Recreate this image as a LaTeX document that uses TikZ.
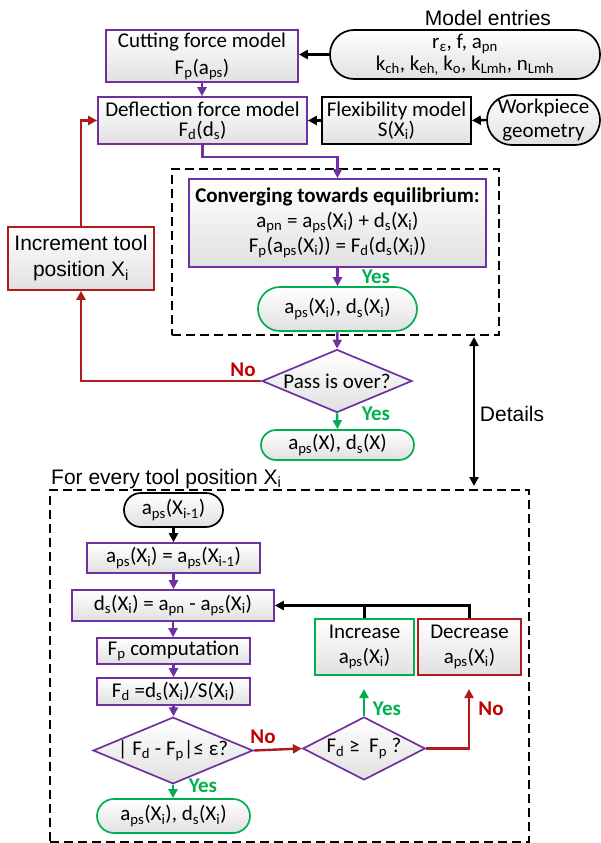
\documentclass[tikz,border=0pt]{standalone}
\usepackage{fontspec}
\setmainfont{Carlito}
\newfontfamily\arialf{Liberation Sans}
\usetikzlibrary{arrows.meta,shapes.geometric,calc}
\newcommand\sbs[1]{\textsubscript{#1}}
\definecolor{cpurple}{HTML}{7030A0}
\definecolor{cgreen}{HTML}{00B050}
\definecolor{cred}{HTML}{B01C1C}
\definecolor{cnotext}{HTML}{C00000}
\tikzset{
  fnt/.style={font=\fontsize{21}{#1}\selectfont},
  box/.style={draw, line width=1.7pt, top color=white, bottom color=black!12,
    inner sep=0pt, align=center, fnt=25},
  pbox/.style={box, draw=cpurple},
  kbox/.style={box, draw=black},
  gbox/.style={box, draw=cgreen},
  rbox/.style={box, draw=cred},
  pdiam/.style={box, draw=cpurple, diamond, shape aspect=2.4},
  dashbox/.style={draw, line width=1.6pt, dash pattern=on 9pt off 5pt, inner sep=0pt},
  arialtxt/.style={font=\arialf\fontsize{21}{26}\selectfont, inner sep=0pt, align=center},
  tip/.style={-{Triangle[length=9pt,width=9pt]}},
  karr/.style={line width=2.4pt, black, tip},
  kline/.style={line width=2.4pt, black},
  parr/.style={line width=2.4pt, cpurple, tip},
  pline/.style={line width=2.4pt, cpurple},
  garr/.style={line width=2.4pt, cgreen, tip},
  rarr/.style={line width=2.4pt, cred, tip},
  yes/.style={font=\bfseries\fontsize{21}{25}\selectfont, text=cgreen, inner sep=0pt},
  no/.style={font=\bfseries\fontsize{21}{25}\selectfont, text=cnotext, inner sep=0pt},
}
\begin{document}
\begin{tikzpicture}[x=1pt,y=-1pt]
\useasboundingbox (0,0) rectangle (601,843);

% ---------- upper part ----------
\node[arialtxt] (title) at (488,18) {Model entries};
\node[pbox, minimum width=192, minimum height=52, fnt=27] (cut) at (202,56)
  {Cutting force model\\F\sbs{p}(a\sbs{ps})};
\node[kbox, rounded corners=24pt, minimum width=270, minimum height=49, fnt=22] (ent) at (465,54.5)
  {r\sbs{ε}, f, a\sbs{pn}\\k\sbs{ch}, k\sbs{eh,} k\sbs{o}, k\sbs{Lmh}, n\sbs{Lmh}};
\node[pbox, minimum width=209, minimum height=47, fnt=20] (defl) at (202.5,120.5)
  {Deflection force model\\F\sbs{d}(d\sbs{s})};
\node[kbox, minimum width=149, minimum height=47, fnt=20] (flex) at (396.5,120.5)
  {Flexibility model\\S(X\sbs{i})};
\node[kbox, rounded corners=25pt, minimum width=113, minimum height=50, fnt=24] (work) at (543.5,120)
  {Workpiece\\geometry};

\node[dashbox, minimum width=327, minimum height=166] (fr1) at (335.5,252) {};
\node[pbox, minimum width=297, minimum height=88] (conv) at (337.5,223)
  {\textbf{Converging towards equilibrium:}\\
   a\sbs{pn} = a\sbs{ps}(X\sbs{i}) + d\sbs{s}(X\sbs{i})\\
   F\sbs{p}(a\sbs{ps}(X\sbs{i})) = F\sbs{d}(d\sbs{s}(X\sbs{i}))};
\node[gbox, rounded corners=22pt, minimum width=159, minimum height=44] (res1) at (337.5,309)
  {a\sbs{ps}(X\sbs{i}), d\sbs{s}(X\sbs{i})};
\node[pdiam, minimum width=150, minimum height=63] (pass) at (337,381) {Pass is over?};
\node[gbox, rounded corners=15pt, minimum width=153, minimum height=30] (res2) at (337.5,445)
  {a\sbs{ps}(X), d\sbs{s}(X)};
\node[rbox, arialtxt, minimum width=146, minimum height=63] (incr) at (81,258.5)
  {Increment tool\\position X\sbs{i}};

\draw[karr] (ent.west) -- (ent.west -| cut.east);
\draw[parr] (cut.south) -- (cut.south |- defl.north);
\draw[karr] (flex.west) -- (defl.east);
\draw[karr] (work.west) -- (flex.east);
\draw[parr] (defl.south) -- ++(0,12) -| (conv.north);
\draw[parr] (conv.south) -- (res1.north);
\draw[parr] (res1.south) -- (pass.north);
\draw[rarr] (pass.west) -| (incr.south);
\draw[rarr] (incr.north) |- (defl.west);
\draw[garr] (pass.south) -- (res2.north);

\node[yes] (y1) at (376,277) {Yes};
\node[yes] (y2) at (376,414) {Yes};
\node[no] (n1) at (243,370) {No};

% details
\coordinate (dt) at (474,337);
\coordinate (db) at (474,486);
\draw[line width=2.4pt, {Triangle[length=9pt,width=9pt]}-{Triangle[length=9pt,width=9pt]}] (dt) -- (db);
\node[arialtxt] (det) at (512,414) {Details};

% ---------- lower part ----------
\node[arialtxt, anchor=west] (forev) at (51,479) {For every tool position X\sbs{i}};
\node[dashbox, minimum width=479, minimum height=352] (fr2) at (289.5,666) {};

\node[kbox, rounded corners=17pt, minimum width=99, minimum height=34] (prev) at (173.5,510)
  {a\sbs{ps}(X\sbs{i-1})};
\node[pbox, minimum width=173, minimum height=30] (b2) at (173.5,558)
  {a\sbs{ps}(X\sbs{i}) = a\sbs{ps}(X\sbs{i-1})};
\node[pbox, minimum width=202, minimum height=31] (b3) at (173,605.5)
  {d\sbs{s}(X\sbs{i}) = a\sbs{pn} - a\sbs{ps}(X\sbs{i})};
\node[pbox, minimum width=153, minimum height=26] (b4) at (173.5,651)
  {F\sbs{p} computation};
\node[pbox, minimum width=153, minimum height=27] (b5) at (173.5,691.5)
  {F\sbs{d} =d\sbs{s}(X\sbs{i})/S(X\sbs{i})};
\node[pdiam, minimum width=154, minimum height=63] (d2) at (173,750.5)
  {| F\sbs{d} - F\sbs{p}|≤ ε?};
\node[gbox, rounded corners=17pt, minimum width=153, minimum height=34] (res3) at (173.5,816)
  {a\sbs{ps}(X\sbs{i}), d\sbs{s}(X\sbs{i})};
\node[pdiam, minimum width=108, minimum height=63] (d3) at (364,748.5)
  {F\sbs{d} ≥\ \ F\sbs{p} ?};
\node[gbox, minimum width=99, minimum height=56] (inc) at (364.5,647)
  {Increase\\a\sbs{ps}(X\sbs{i})};
\node[rbox, minimum width=103, minimum height=56] (dec) at (469.5,647)
  {Decrease\\a\sbs{ps}(X\sbs{i})};

\draw[karr] (prev.south) -- (prev.south |- b2.north);
\draw[parr] (b2.south) -- (b2.south |- b3.north);
\draw[parr] (b3.south) -- (b3.south |- b4.north);
\draw[parr] (b4.south) -- (b4.south |- b5.north);
\draw[parr] (b5.south) -- (b5.south |- d2.north);
\draw[garr] (d2.south) -- (d2.south |- res3.north);
\draw[rarr] (d2.east) -- (d3.west);
\coordinate (gend) at (364,689);
\coordinate (rend) at (469,689);
\draw[garr] (d3.north) -- (gend);
\draw[rarr] (d3.east) -| (rend);
\draw[kline] (inc.north) -- (inc.north |- b3.east);
\draw[karr] (dec.north) |- (b3.east);

\node[yes] (y3) at (203,786) {Yes};
\node[yes] (y4) at (387,709) {Yes};
\node[no] (n2) at (263,737) {No};
\node[no] (n3) at (491,709) {No};
\end{tikzpicture}
\end{document}
